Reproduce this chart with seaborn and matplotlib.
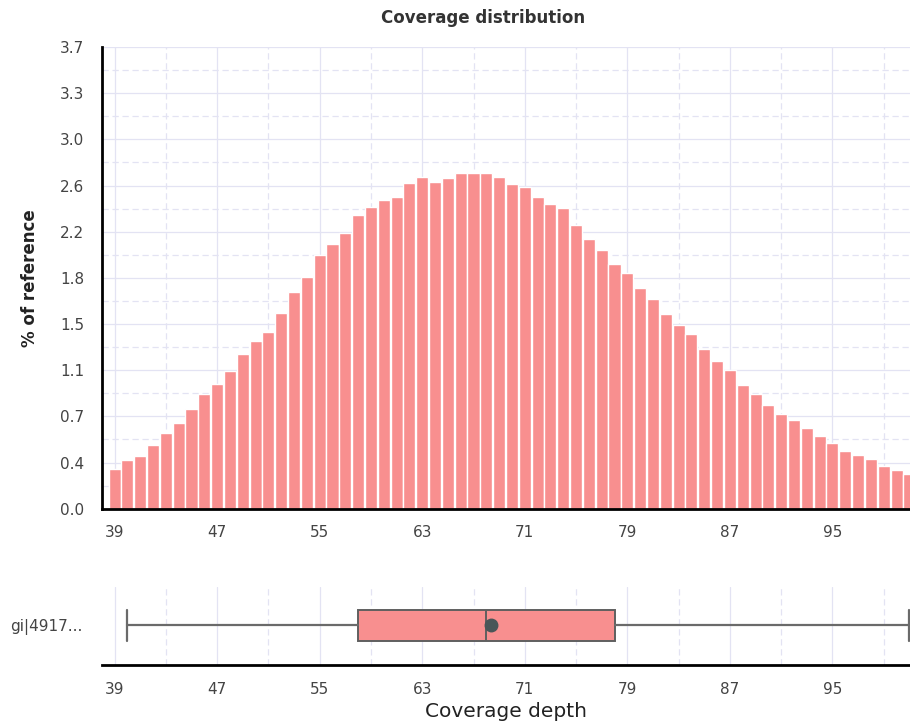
import numpy as np
import matplotlib
matplotlib.use("Agg")
import matplotlib.pyplot as plt
import seaborn as sns

# coverage histogram (% of reference per depth)
depth = list(range(39, 102))
pct_reference = [0.32, 0.39, 0.42, 0.51, 0.61, 0.69, 0.80, 0.92, 1.00, 1.10,
                 1.24, 1.34, 1.42, 1.57, 1.74, 1.86, 2.03, 2.12, 2.21, 2.35,
                 2.42, 2.47, 2.50, 2.61, 2.66, 2.62, 2.65, 2.69, 2.69, 2.69,
                 2.66, 2.60, 2.58, 2.50, 2.44, 2.41, 2.27, 2.16, 2.07, 1.96,
                 1.89, 1.77, 1.68, 1.56, 1.47, 1.40, 1.28, 1.18, 1.11, 0.99,
                 0.92, 0.83, 0.76, 0.71, 0.65, 0.585, 0.53, 0.465, 0.43, 0.40,
                 0.345, 0.31, 0.28]

y_ticks = np.linspace(0, 3.7, 11)
y_tick_labels = ["0.0", "0.4", "0.7", "1.1", "1.5", "1.8", "2.2", "2.6", "3.0", "3.3", "3.7"]
x_major = list(range(39, 100, 8))
x_minor = list(range(43, 104, 8))

# box summary for the sequence
box_label = "gi|4917..."
whisker_low = 40
q1 = 58
median = 68
q3 = 78
whisker_high = 101
mean_depth = 68.4

bar_color = "#f88f8f"
grid_color = "#e3e3f3"
label_color = "#444444"

sns.set_style("white")
plt.rcParams['font.family'] = ['DejaVu Sans']

fig = plt.figure(figsize=(9.10, 7.24), dpi=100)
ax = fig.add_axes([102 / 910, 215.3 / 724, 808 / 910, 461.7 / 724])
ax_box = fig.add_axes([102 / 910, 59 / 724, 808 / 910, 78 / 724])

sns.barplot(x=depth, y=pct_reference, native_scale=True, color=bar_color,
            saturation=1, width=0.94, errorbar=None, ax=ax, zorder=2)

for a in (ax, ax_box):
    a.set_xlim(38.02, 101.05)
    a.set_xticks(x_major)
    a.set_xticks(x_minor, minor=True)
    a.set_xticklabels([str(v) for v in x_major])
    a.grid(which='major', axis='x', color=grid_color, lw=0.9, ls='-')
    a.grid(which='minor', axis='x', color=grid_color, lw=0.9, ls=(0, (5, 3)))
    a.set_axisbelow(True)
    for s in ('top', 'right'):
        a.spines[s].set_visible(False)
    a.spines['bottom'].set_linewidth(2)
    a.spines['bottom'].set_color('black')
    a.tick_params(axis='x', which='major', length=11, width=2, color='black',
                  labelcolor=label_color, labelsize=11, pad=1)
    a.tick_params(axis='x', which='minor', length=5, width=2, color='black')

ax.set_ylim(0, 3.7)
ax.set_yticks(y_ticks)
ax.set_yticklabels(y_tick_labels)
ax.set_yticks((y_ticks[:-1] + y_ticks[1:]) / 2, minor=True)
ax.grid(which='major', axis='y', color=grid_color, lw=0.9, ls='-')
ax.grid(which='minor', axis='y', color=grid_color, lw=0.9, ls=(0, (5, 3)))
ax.spines['left'].set_linewidth(2)
ax.spines['left'].set_color('black')
ax.tick_params(axis='y', which='major', length=11, width=2, color='black',
               labelcolor=label_color, labelsize=11, pad=2)
ax.tick_params(axis='y', which='minor', length=5, width=2, color='black')
ax.set_xlabel("")
ax.set_ylabel("% of reference", fontsize=12, fontweight='bold', color='#222222')
ax.yaxis.set_label_coords(-63 / 808, 0.5)

fig.text(483 / 910, 1 - 18 / 724, "Coverage distribution", ha='center', va='center',
         fontsize=12, fontweight='bold', color='#333333')

stats = [dict(label=box_label, whislo=whisker_low, q1=q1, med=median, q3=q3,
              whishi=whisker_high, mean=mean_depth, fliers=[])]
ax_box.bxp(stats, positions=[0], widths=0.4, orientation='horizontal',
           showmeans=True, patch_artist=True, capwidths=0.4,
           boxprops=dict(facecolor=bar_color, edgecolor='#5f5f5f', lw=1.4),
           medianprops=dict(color='#5f5f5f', lw=1.4),
           whiskerprops=dict(color='#6a6a6a', lw=1.6),
           capprops=dict(color='#6a6a6a', lw=1.6),
           meanprops=dict(marker='o', markersize=9, markerfacecolor='#4a5658',
                          markeredgecolor='#4a5658'))
ax_box.set_ylim(-0.52, 0.5)
ax_box.spines['left'].set_visible(False)
ax_box.tick_params(axis='y', length=0, pad=14, labelsize=11, labelcolor=label_color)
ax_box.set_xlabel("Coverage depth", fontsize=14.5, color='#222222')
ax_box.xaxis.set_label_coords(0.5, -0.47)

fig.savefig("out.png", dpi=100)
